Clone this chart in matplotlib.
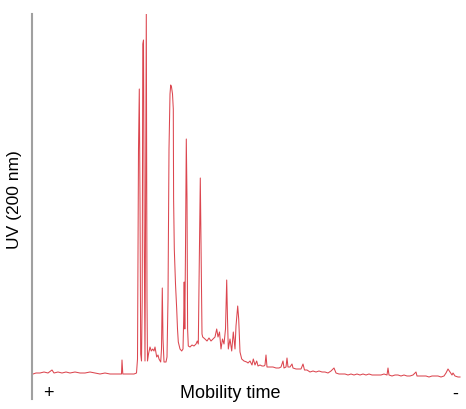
import matplotlib
matplotlib.use("Agg")
import matplotlib.pyplot as plt
import numpy as np

plt.rcParams['font.family'] = ['Liberation Sans', 'DejaVu Sans']

# Electropherogram trace, in segments.
# x: mobility position, y: signal level (picture units, larger = lower signal)
seg_a_x = [33, 36, 40, 44, 48, 52, 54, 58, 62, 66,
           70, 75, 80, 85, 90, 95, 100, 105, 110, 115,
           120, 121.5, 122, 122.8, 126, 130, 134, 136.5]
seg_a_y = [375, 374, 374, 373, 374, 371, 374, 373, 374, 373,
           374, 373, 374, 374, 373, 374, 375, 374, 375, 375,
           375, 375, 361, 375, 375, 375, 375, 374]

seg_b_x = [137.5, 138.5, 139.3, 140, 140.7, 141.5, 142.2, 142.8, 143.5, 144.3,
           145, 145.6, 146.3, 147, 147.5, 148.5, 150, 151.3, 152.7, 154,
           155, 156.7, 158, 159, 160.7, 161.5, 162.3, 163, 164, 166]
seg_b_y = [360, 150, 90, 200, 355, 362, 300, 45, 41, 250,
           362, 200, 15, 300, 362, 355, 348, 352, 350, 352,
           348, 358, 356, 360, 363, 350, 289, 340, 363, 363]

seg_c_x = [167, 168, 169, 170, 170.7, 171.5, 172.5, 173.3, 173.6, 174.3,
           175.5, 176.7, 177.5, 178.3, 180, 181.7, 183, 183.7, 184.2, 184.8,
           185.5, 186.3, 187, 187.6, 188.3, 190, 192, 194, 196, 197.3,
           198.3, 199.3, 200.3, 201.2, 202, 202.7]
seg_c_y = [358, 300, 150, 95, 86, 88, 95, 110, 200, 250,
           285, 310, 330, 343, 350, 352, 350, 320, 283, 330,
           250, 140, 200, 330, 347, 348, 346, 347, 345, 342,
           345, 260, 179, 260, 335, 338]

seg_d_x = [205, 207, 209, 211, 213, 215, 216.7, 218, 219.5, 221,
           222.5, 224, 225.5, 226.7, 227.5, 228.3, 230, 231.7, 233.3, 235,
           236, 237.7, 238.7, 240, 241.7]
seg_d_y = [340, 342, 339, 342, 340, 338, 330, 338, 333, 350,
           340, 345, 330, 281, 320, 350, 340, 352, 333, 350,
           327, 307, 320, 353, 360]

seg_e_x = [244, 246.7, 248, 250, 252, 253.3, 255, 256.7, 258, 260,
           262, 264, 265, 266, 267, 270, 273, 276, 279, 281,
           283, 284, 286, 287, 288, 290, 292, 293, 296, 299,
           301, 303, 304.5]
seg_e_y = [362, 363, 364, 362, 366, 360, 366, 362, 367, 366,
           367, 367, 366, 356, 368, 368, 368, 369, 369, 368,
           362, 369, 368, 359, 368, 368, 365, 369, 370, 370,
           370, 365, 371]

seg_f_x = [307, 310, 313, 316, 319, 322, 325, 328, 331, 334,
           336, 339, 342, 345, 348, 351, 354, 357, 360, 363,
           366, 369, 372, 375, 378, 381, 384, 387, 388, 389,
           392, 395, 398, 401, 404, 407, 410, 413, 416, 417,
           420, 423, 426, 429, 432, 435, 438, 441, 444, 446,
           448, 450, 452, 453, 455, 458, 460]
seg_f_y = [371, 373, 372, 373, 372, 373, 373, 374, 372, 369,
           374, 375, 375, 375, 376, 375, 376, 375, 376, 375,
           376, 375, 376, 376, 376, 376, 375, 376, 369, 376,
           377, 376, 376, 377, 376, 377, 377, 376, 373, 377,
           377, 377, 377, 378, 377, 377, 377, 378, 377, 374,
           370, 373, 376, 374, 377, 378, 378]

mobility = np.concatenate([seg_a_x, seg_b_x, seg_c_x, seg_d_x, seg_e_x, seg_f_x]) - 32.0
absorbance = 376.0 - np.concatenate([seg_a_y, seg_b_y, seg_c_y, seg_d_y, seg_e_y, seg_f_y])

xlabel = "Mobility time"
ylabel = "UV (200 nm)"
left_mark = "+"
right_mark = "-"

W, H = 466, 410
fig = plt.figure(figsize=(W / 100, H / 100), dpi=100)
ax = fig.add_axes([32 / W, (H - 400) / H, (462 - 32) / W, 385 / H])
ax.plot(mobility, absorbance, color='#d8323c', lw=0.75, alpha=0.9)

ax.set_xlim(0, 430)
ax.set_ylim(376 - 400, 376 - 15)
for s in ['top', 'right', 'bottom']:
    ax.spines[s].set_visible(False)
ax.spines['left'].set_color('#a0a0a0')
ax.spines['left'].set_linewidth(1.5)
ax.set_xticks([])
ax.set_yticks([])

fs = 13
ax.text((230 - 32) / 430, (400 - 394) / 385, xlabel, transform=ax.transAxes,
        ha='center', va='center', fontsize=fs, color='black')
ax.text((48 - 32) / 430, (400 - 394) / 385, left_mark, transform=ax.transAxes,
        ha='center', va='center', fontsize=fs, color='black')
ax.text((455 - 32) / 430, (400 - 394) / 385, right_mark, transform=ax.transAxes,
        ha='center', va='center', fontsize=fs, color='black')
fig.text(15 / W, 1 - 200 / H, ylabel, rotation=90, ha='center', va='center',
         fontsize=12.5, color='black')

fig.savefig('out.png', dpi=100)
